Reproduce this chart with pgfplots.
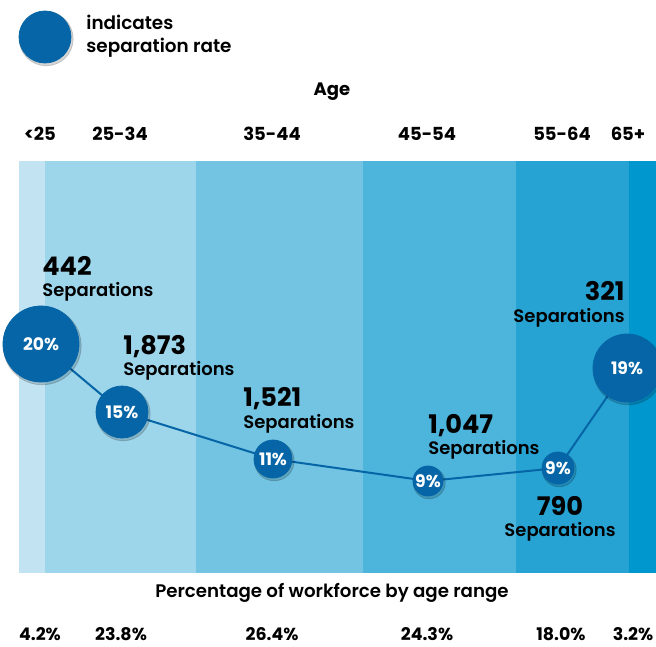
\documentclass[border=0pt]{standalone}
\usepackage{pgfplots}
\pgfplotsset{compat=1.18}
\usepackage{fontspec}
\setmainfont{Poppins}
\newfontfamily\pmed{Poppins SemiBold}
\definecolor{b1}{HTML}{C2E4F2}
\definecolor{b2}{HTML}{9DD5EA}
\definecolor{b3}{HTML}{72C4E2}
\definecolor{b4}{HTML}{4DB4DC}
\definecolor{b5}{HTML}{27A3D3}
\definecolor{b6}{HTML}{0096CE}
\definecolor{circ}{HTML}{0565A6}
\pgfplotsset{
  shad/.style={only marks, mark=*, color=black, opacity=0.16, mark options={xshift=0.6pt, yshift=-0.9pt}},
  dot/.style={only marks, mark=*, color=circ},
  lab/.style={only marks, mark=*, color=circ, nodes near coords, point meta=explicit symbolic,
    nodes near coords style={anchor=center, text=white, font=\bfseries\fontsize{8.6}{10}\selectfont}},
}
\begin{document}
\begin{tikzpicture}
\begin{axis}[
  width=328pt, height=323pt, scale only axis,
  xmin=0, xmax=656, ymin=0, ymax=646, y dir=reverse,
  hide axis, clip=false,
]
\coordinate (ll) at (axis cs:0,646);
\coordinate (ur) at (axis cs:656,0);
% bands
\addplot[fill=b1, draw=none] coordinates {(19,161)(45,161)(45,573)(19,573)} -- cycle;
\addplot[fill=b2, draw=none] coordinates {(45,161)(196,161)(196,573)(45,573)} -- cycle;
\addplot[fill=b3, draw=none] coordinates {(196,161)(363,161)(363,573)(196,573)} -- cycle;
\addplot[fill=b4, draw=none] coordinates {(363,161)(516,161)(516,573)(363,573)} -- cycle;
\addplot[fill=b5, draw=none] coordinates {(516,161)(629,161)(629,573)(516,573)} -- cycle;
\addplot[fill=b6, draw=none] coordinates {(629,161)(656,161)(656,573)(629,573)} -- cycle;
% line
\addplot[circ, line width=1pt] coordinates {(41,344)(122,412)(273,459)(428,481)(558,468)(627,368)};
% shadows
\addplot[shad, mark size=19.5pt] coordinates {(41,344)};
\addplot[shad, mark size=13.5pt] coordinates {(122,412)};
\addplot[shad, mark size=10pt] coordinates {(273,459)};
\addplot[shad, mark size=8pt] coordinates {(428,481)};
\addplot[shad, mark size=8.5pt] coordinates {(558,468)};
\addplot[shad, mark size=17.5pt] coordinates {(627,368)};
\addplot[shad, mark size=13.5pt] coordinates {(45,37)};
% circles with rate labels
\addplot[lab, mark size=19pt] coordinates {(41,344)[20\%]};
\addplot[lab, mark size=13pt] coordinates {(122,412)[15\%]};
\addplot[lab, mark size=9.5pt] coordinates {(273,459)[11\%]};
\addplot[lab, mark size=7.5pt] coordinates {(428,481)[9\%]};
\addplot[lab, mark size=8pt] coordinates {(558,468)[9\%]};
\addplot[lab, mark size=17pt] coordinates {(627,368)[19\%]};
\addplot[dot, mark size=13pt] coordinates {(45,37)};
% legend text
\node[anchor=base west, inner sep=0pt, font=\pmed\fontsize{9.2}{10}\selectfont] at (axis cs:86,30) {indicates};
\node[anchor=base west, inner sep=0pt, font=\pmed\fontsize{9.2}{10}\selectfont] at (axis cs:86,53) {separation rate};
% headers
\node[anchor=base, font=\bfseries\fontsize{9}{10}\selectfont] at (axis cs:332,96) {Age};
\node[anchor=base, font=\bfseries\fontsize{9}{10}\selectfont] at (axis cs:40,141) {<25};
\node[anchor=base, font=\bfseries\fontsize{9}{10}\selectfont] at (axis cs:120,141) {25-34};
\node[anchor=base, font=\bfseries\fontsize{9}{10}\selectfont] at (axis cs:272,141) {35-44};
\node[anchor=base, font=\bfseries\fontsize{9}{10}\selectfont] at (axis cs:427,141) {45-54};
\node[anchor=base, font=\bfseries\fontsize{9}{10}\selectfont] at (axis cs:562,141) {55-64};
\node[anchor=base, font=\bfseries\fontsize{9}{10}\selectfont] at (axis cs:628,141) {65+};
\node[anchor=base, font=\pmed\fontsize{9.1}{10}\selectfont] at (axis cs:332,597) {Percentage of workforce by age range};
\node[anchor=base, font=\bfseries\fontsize{8.7}{10}\selectfont] at (axis cs:40,640) {4.2\%};
\node[anchor=base, font=\bfseries\fontsize{8.7}{10}\selectfont] at (axis cs:121,640) {23.8\%};
\node[anchor=base, font=\bfseries\fontsize{8.7}{10}\selectfont] at (axis cs:272,640) {26.4\%};
\node[anchor=base, font=\bfseries\fontsize{8.7}{10}\selectfont] at (axis cs:427,640) {24.3\%};
\node[anchor=base, font=\bfseries\fontsize{8.7}{10}\selectfont] at (axis cs:561,640) {18.0\%};
\node[anchor=base, font=\bfseries\fontsize{8.7}{10}\selectfont] at (axis cs:633,640) {3.2\%};
% separations
\node[anchor=base west, inner sep=0pt, font=\bfseries\fontsize{12.8}{14}\selectfont] at (axis cs:42,275) {442};
\node[anchor=base west, inner sep=0pt, font=\pmed\fontsize{9}{10}\selectfont] at (axis cs:42,296) {Separations};
\node[anchor=base west, inner sep=0pt, font=\bfseries\fontsize{12.8}{14}\selectfont] at (axis cs:123,354) {1,873};
\node[anchor=base west, inner sep=0pt, font=\pmed\fontsize{9}{10}\selectfont] at (axis cs:123,375) {Separations};
\node[anchor=base west, inner sep=0pt, font=\bfseries\fontsize{12.8}{14}\selectfont] at (axis cs:243,406) {1,521};
\node[anchor=base west, inner sep=0pt, font=\pmed\fontsize{9}{10}\selectfont] at (axis cs:243,428) {Separations};
\node[anchor=base west, inner sep=0pt, font=\bfseries\fontsize{12.8}{14}\selectfont] at (axis cs:428,433) {1,047};
\node[anchor=base west, inner sep=0pt, font=\pmed\fontsize{9}{10}\selectfont] at (axis cs:428,454) {Separations};
\node[anchor=base east, inner sep=0pt, font=\bfseries\fontsize{12.8}{14}\selectfont] at (axis cs:625,300) {321};
\node[anchor=base east, inner sep=0pt, font=\pmed\fontsize{9}{10}\selectfont] at (axis cs:625,322) {Separations};
\node[anchor=base, inner sep=0pt, font=\bfseries\fontsize{12.8}{14}\selectfont] at (axis cs:560,515) {790};
\node[anchor=base, inner sep=0pt, font=\pmed\fontsize{9}{10}\selectfont] at (axis cs:560,536) {Separations};
\end{axis}
\pgfresetboundingbox
\path[use as bounding box] (ll) rectangle (ur);
\end{tikzpicture}
\end{document}
